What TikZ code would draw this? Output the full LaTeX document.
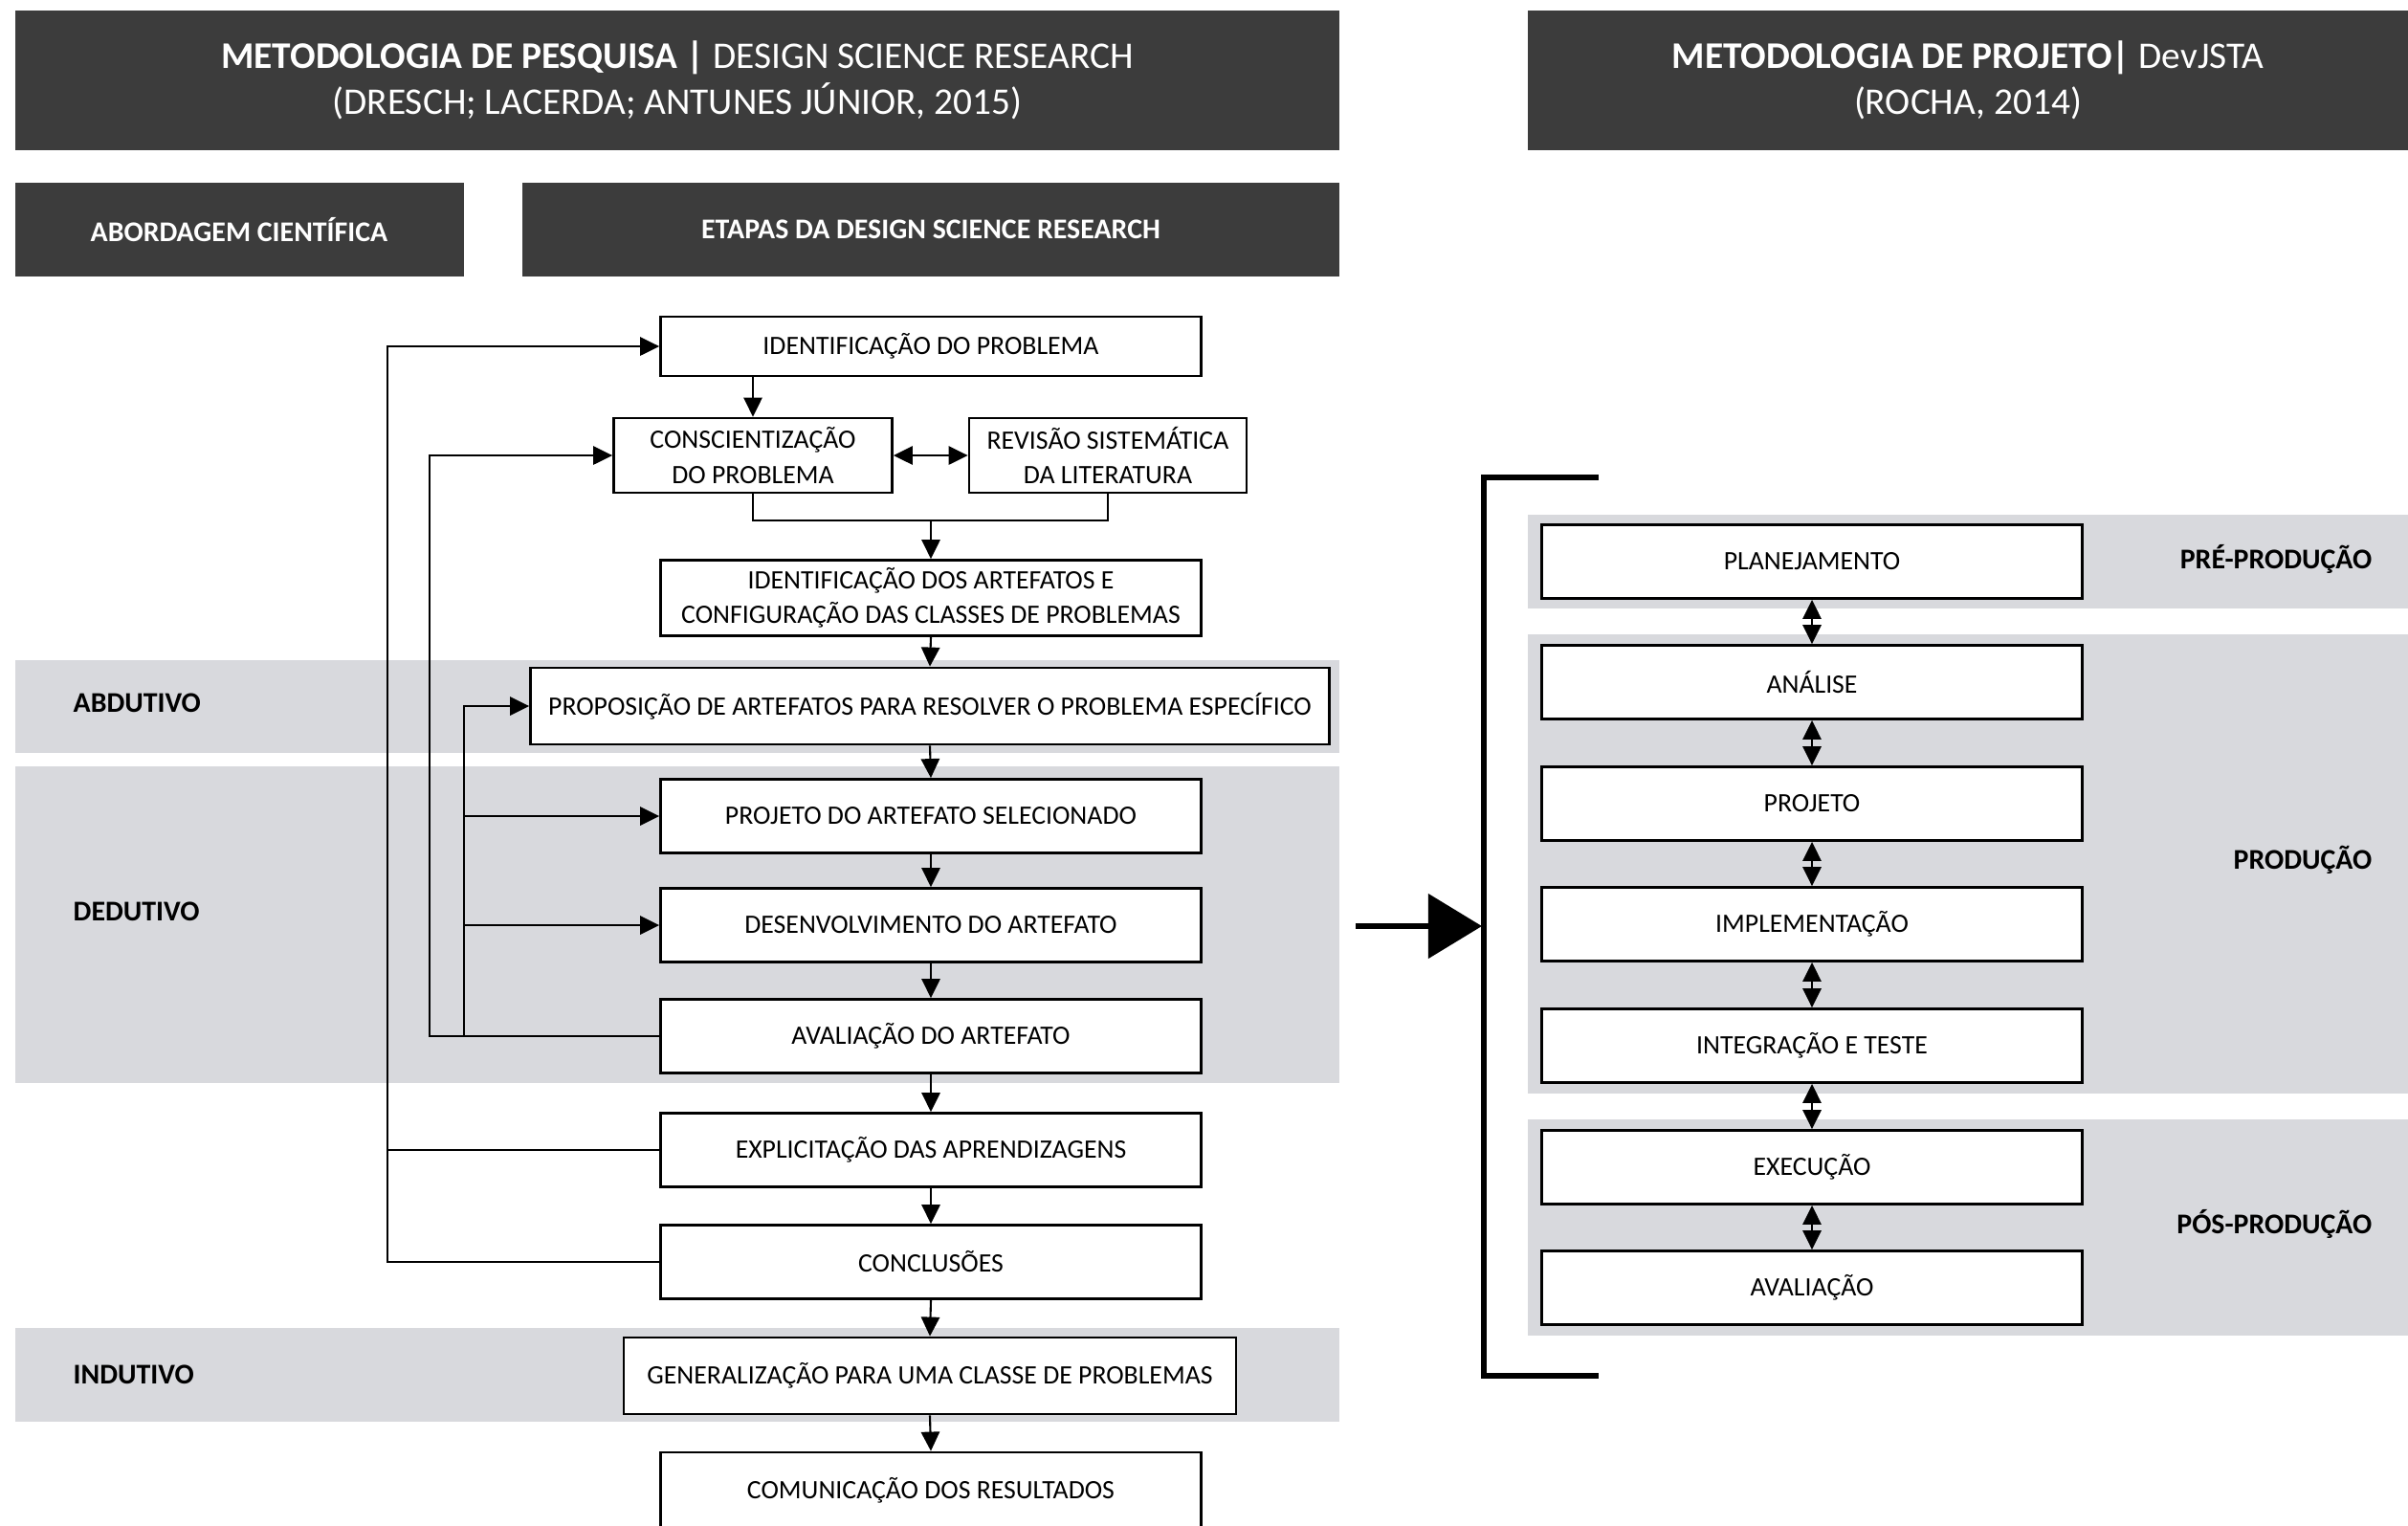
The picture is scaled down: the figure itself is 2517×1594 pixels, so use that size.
\documentclass[tikz,border=0pt]{standalone}
\usepackage{fontspec}
\setmainfont{Carlito}
\usetikzlibrary{arrows.meta,positioning}

\definecolor{cabeca}{RGB}{60,60,60}
\definecolor{faixa}{RGB}{216,217,221}

\tikzset{
  cabecalho/.style={fill=cabeca, text=white, inner sep=0pt, align=center},
  etapa/.style={draw, line width=0.8pt, fill=white, inner sep=0pt,
    minimum height=7.7mm, minimum width=56.5mm, align=center,
    font=\fontsize{7.9}{10.3}\selectfont},
  rotulo/.style={inner sep=0pt, font=\bfseries\fontsize{8.5}{10}\selectfont},
  seta/.style={line width=0.6pt, -{Triangle[length=5.7pt,width=5.5pt]}},
  dupla/.style={line width=0.6pt,
    {Triangle[length=5.7pt,width=5.5pt]}-{Triangle[length=5.7pt,width=5.5pt]}},
  linha/.style={line width=0.6pt},
}

\begin{document}
\begin{tikzpicture}[x=0.1mm,y=-0.1mm]
    \useasboundingbox (0,0) rectangle (2517,1594);

    % Faixas das abordagens
    \fill [faixa] (16,690) rectangle (1400,787);
    \fill [faixa] (16,801) rectangle (1400,1132);
    \fill [faixa] (16,1388) rectangle (1400,1486);
    \fill [faixa] (1597,538) rectangle (2517,636);
    \fill [faixa] (1597,663) rectangle (2517,1143);
    \fill [faixa] (1597,1170) rectangle (2517,1396);

    % Cabecalhos
    \node [cabecalho, minimum width=138.4mm, minimum height=14.6mm,
        font=\fontsize{11.2}{13.7}\selectfont] (cabPesq) at (708,84)
        {\textbf{METODOLOGIA DE PESQUISA |} DESIGN SCIENCE RESEARCH\\
         (DRESCH; LACERDA; ANTUNES JÚNIOR, 2015)};
    \node [cabecalho, minimum width=92mm, minimum height=14.6mm,
        font=\fontsize{11.2}{13.7}\selectfont] (cabProj) at (2057,84)
        {\textbf{METODOLOGIA DE PROJETO|} DevJSTA\\(ROCHA, 2014)};
    \node [cabecalho, minimum width=46.9mm, minimum height=9.8mm, rotulo]
        (cabAbord) at (250,240) {ABORDAGEM CIENTÍFICA};
    \node [cabecalho, minimum width=85.4mm, minimum height=9.8mm, rotulo]
        (cabEtapas) at (973,240) {ETAPAS DA DESIGN SCIENCE RESEARCH};

    % Abordagens
    \node [rotulo, anchor=west] (abdut) at (76,735) {ABDUTIVO};
    \node [rotulo, anchor=west] (dedut) at (76,953) {DEDUTIVO};
    \node [rotulo, anchor=west] (indut) at (76,1437) {INDUTIVO};

    % Etapas da DSR
    \node [etapa, minimum height=6.2mm] (ident) at (973,362) {IDENTIFICAÇÃO DO PROBLEMA};
    \node [etapa, minimum width=29.1mm, minimum height=7.8mm] (consc) at (787,476)
        {CONSCIENTIZAÇÃO\\DO PROBLEMA};
    \node [etapa, minimum width=29mm, minimum height=7.8mm] (revis) at (1158,476)
        {REVISÃO SISTEMÁTICA\\DA LITERATURA};
    \node [etapa, minimum height=7.9mm] (artef) at (973,625)
        {IDENTIFICAÇÃO DOS ARTEFATOS E\\CONFIGURAÇÃO DAS CLASSES DE PROBLEMAS};
    \node [etapa, minimum width=83.5mm, minimum height=8mm] (propos) at (972,738)
        {PROPOSIÇÃO DE ARTEFATOS PARA RESOLVER O PROBLEMA ESPECÍFICO};
    \node [etapa] (proj) at (973,853) {PROJETO DO ARTEFATO SELECIONADO};
    \node [etapa] (desenv) at (973,967) {DESENVOLVIMENTO DO ARTEFATO};
    \node [etapa] (aval) at (973,1083) {AVALIAÇÃO DO ARTEFATO};
    \node [etapa] (expl) at (973,1202) {EXPLICITAÇÃO DAS APRENDIZAGENS};
    \node [etapa] (concl) at (973,1319) {CONCLUSÕES};
    \node [etapa, minimum width=64mm, minimum height=8mm] (gener) at (972,1438)
        {GENERALIZAÇÃO PARA UMA CLASSE DE PROBLEMAS};
    \node [etapa, minimum height=8mm] (comun) at (973,1558) {COMUNICAÇÃO DOS RESULTADOS};

    % Fluxo principal
    \coordinate (junta) at (973,544);
    \draw [seta] (consc |- ident.south) -- (consc.north);
    \draw [dupla] (consc.east) -- (revis.west);
    \draw [linha] (consc.south) |- (junta) -| (revis.south);
    \draw [seta] (junta) -- (artef.north);
    \draw [seta] (artef.south) -- (propos.north);
    \draw [seta] (propos.south) -- (proj.north);
    \draw [seta] (proj.south) -- (desenv.north);
    \draw [seta] (desenv.south) -- (aval.north);
    \draw [seta] (aval.south) -- (expl.north);
    \draw [seta] (expl.south) -- (concl.north);
    \draw [seta] (concl.south) -- (gener.north);
    \draw [seta] (gener.south) -- (comun.north);

    % Retornos
    \coordinate (retA) at (405,0);
    \coordinate (retB) at (449,0);
    \coordinate (retC) at (485,0);
    \draw [seta] (expl.west) -| (retA |- ident.west) -- (ident.west);
    \draw [linha] (concl.west) -| (retA |- expl.west);
    \draw [seta] (aval.west) -| (retB |- consc.west) -- (consc.west);
    \draw [seta] (retC |- aval.west) |- (propos.west);
    \draw [seta] (retC |- proj.west) -- (proj.west);
    \draw [seta] (retC |- desenv.west) -- (desenv.west);

    % Seta e chave
    \coordinate (chaveSup) at (1671,499);
    \coordinate (chaveInf) at (1671,1438);
    \coordinate (setaIni) at (1417,968);
    \draw [line width=1.5pt] (chaveSup) -- (1551,499) -- (1551,1438) -- (chaveInf);
    \draw [line width=1.7pt, -{Triangle[length=16pt,width=19pt]}] (setaIni) -- (1549,968);

    % Etapas da DevJSTA
    \node [etapa] (plan) at (1894,587) {PLANEJAMENTO};
    \node [etapa] (anal) at (1894,713) {ANÁLISE};
    \node [etapa] (projeto) at (1894,840) {PROJETO};
    \node [etapa] (impl) at (1894,966) {IMPLEMENTAÇÃO};
    \node [etapa] (integ) at (1894,1093) {INTEGRAÇÃO E TESTE};
    \node [etapa] (exec) at (1894,1220) {EXECUÇÃO};
    \node [etapa] (avalia) at (1894,1346) {AVALIAÇÃO};
    \draw [dupla] (plan.south) -- (anal.north);
    \draw [dupla] (anal.south) -- (projeto.north);
    \draw [dupla] (projeto.south) -- (impl.north);
    \draw [dupla] (impl.south) -- (integ.north);
    \draw [dupla] (integ.south) -- (exec.north);
    \draw [dupla] (exec.south) -- (avalia.north);

    % Fases
    \node [rotulo, anchor=east] (preProd) at (2480,584) {PRÉ-PRODUÇÃO};
    \node [rotulo, anchor=east] (prod) at (2480,899) {PRODUÇÃO};
    \node [rotulo, anchor=east] (posProd) at (2480,1279) {PÓS-PRODUÇÃO};

\end{tikzpicture}
\end{document}
